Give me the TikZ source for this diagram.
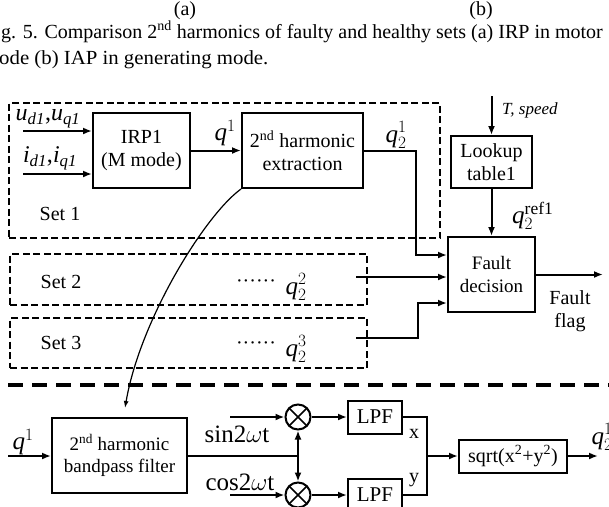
\documentclass[tikz,border=0pt]{standalone}
\usepackage{fontspec}
\setmainfont{Liberation Serif}
\usetikzlibrary{arrows.meta}
\begin{document}
\begin{tikzpicture}[x=1pt,y=-1pt,
  blk/.style={draw, line width=2pt, inner sep=0pt, align=center, font=\fontsize{20}{23}\selectfont},
  con/.style={line width=2pt, -{Latex[length=9pt,width=7pt]}},
  ln/.style={line width=2pt},
  setbox/.style={draw, line width=2pt, dash pattern=on 7pt off 3.5pt},
  sepline/.style={line width=3.2pt, dash pattern=on 15pt off 9pt, dash phase=16pt},
  lbl/.style={inner sep=0pt, font=\fontsize{20}{23}\selectfont},
  qlab/.style={inner sep=0pt, font=\fontsize{25}{28}\selectfont},
  captxt/.style={inner sep=0pt, font=\fontsize{20}{22}\selectfont},
  mult/.style={draw, circle, line width=2pt, minimum size=25pt, inner sep=0pt,
    path picture={\draw[line width=1.6pt] (path picture bounding box.north west) -- (path picture bounding box.south east)
      (path picture bounding box.north east) -- (path picture bounding box.south west);}},
]
\useasboundingbox (0,0) rectangle (609,506);
\clip (0,0) rectangle (609,506);

% caption remains
\node[captxt, anchor=base] (capa) at (185,16) {(a)};
\node[captxt, anchor=base] (capb) at (481,16) {(b)};
\node[captxt, anchor=base west] (cap1) at (1,38.5) {g. 5. Comparison 2\textsuperscript{nd} harmonics of faulty and healthy sets (a) IRP in motor};
\node[captxt, anchor=base west, xscale=1.04, transform shape] (cap2) at (-1,64) {ode (b) IAP in generating mode.};

% set boxes
\node[setbox, minimum width=431pt, minimum height=135pt] (set1) at (224.5,170.5) {};
\node[setbox, minimum width=357pt, minimum height=51pt] (set2) at (188.5,279.5) {};
\node[setbox, minimum width=357pt, minimum height=50pt] (set3) at (188.5,343) {};
\node[lbl] (s1) at (60,214) {Set 1};
\node[lbl] (s2) at (61,282) {Set 2};
\node[lbl] (s3) at (61,343) {Set 3};

% blocks
\node[blk, minimum width=97pt, minimum height=75pt] (irp) at (141.5,150.5) {IRP1\\(M mode)};
\node[blk, minimum width=121pt, minimum height=75pt] (ext) at (302.5,150.5) {2\textsuperscript{nd} harmonic\\extraction};
\node[blk, minimum width=81pt, minimum height=52pt] (lut) at (491.5,162) {Lookup\\table1};
\node[blk, minimum width=87pt, minimum height=75pt, font=\fontsize{19}{23}\selectfont] (fault) at (491.5,274.5) {Fault\\decision};

% inputs
\node[lbl, font=\fontsize{24}{26}\selectfont] (ulab) at (48,119) {$\mathit{u}_{\mathit{d1}}$,$\mathit{u}_{\mathit{q1}}$};
\node[lbl, font=\fontsize{24}{26}\selectfont] (ilab) at (50,158) {$\mathit{i}_{\mathit{d1}}$,$\mathit{i}_{\mathit{q1}}$};
\coordinate (uin) at (23,131);
\coordinate (iin) at (23,174);
\draw[con] (uin) -- (uin -| irp.west);
\draw[con] (iin) -- (iin -| irp.west);
\draw[con] (irp.east) -- (ext.west);
\node[qlab] (q1lab) at (225,133) {$\mathit{q}^{1}$};

% to fault decision
\coordinate (b1) at (416,255);
\draw[con] (ext.east) -| (b1) -- (b1 -| fault.west);
\node[qlab] (q21lab) at (396,135) {$\mathit{q}^{1}_{2}$};
\node[lbl] (d2) at (256,284) {\textperiodcentered\textperiodcentered\textperiodcentered\textperiodcentered\textperiodcentered\textperiodcentered};
\node[qlab] (q22lab) at (296,287) {$\mathit{q}^{2}_{2}$};
\node[lbl] (d3) at (256,346) {\textperiodcentered\textperiodcentered\textperiodcentered\textperiodcentered\textperiodcentered\textperiodcentered};
\node[qlab] (q23lab) at (296,349) {$\mathit{q}^{3}_{2}$};
\coordinate (s2o) at (356,277);
\draw[con] (s2o) -- (s2o -| fault.west);
\coordinate (s3o) at (356,338);
\coordinate (b3) at (418,303);
\draw[con] (s3o) -| (b3) -- (b3 -| fault.west);

\coordinate (tin) at (491.5,96);
\draw[con] (tin) -- (lut.north);
\node[inner sep=0pt, anchor=west, font=\fontsize{17}{20}\selectfont\itshape] (tlab) at (502,110) {T, speed};
\draw[con] (lut.south) -- (fault.north);
\node[qlab, anchor=west] (qref) at (512,216) {$\mathit{q}^{\mathrm{ref1}}_{2}$};
\coordinate (fout) at (603,274.5);
\draw[con] (fault.east) -- (fout);
\node[lbl, align=center, font=\fontsize{20}{23}\selectfont] (flag) at (570,311) {Fault\\flag};

% separator
\coordinate (sepL) at (0,385);
\coordinate (sepR) at (609,385);
\draw[sepline] (sepL) -- (sepR);

% bottom chain
\node[blk, minimum width=135pt, minimum height=75pt, font=\fontsize{19}{22}\selectfont] (bpf) at (119.5,455.5) {2\textsuperscript{nd} harmonic\\bandpass filter};
\node[qlab] (q1in) at (23,442) {$\mathit{q}^{1}$};
\coordinate (qin) at (8,456);
\draw[con] (qin) -- (qin -| bpf.west);
\node[mult] (m1) at (298,417) {};
\node[mult] (m2) at (298,495) {};
\coordinate (j) at (298,456);
\draw[ln] (bpf.east |- j) -- (j);
\draw[con] (j) -- (m1.south);
\draw[con] (j) -- (m2.north);
\node[lbl, font=\fontsize{25}{28}\selectfont] (sinlab) at (237,434) {sin2$\omega$t};
\node[lbl, font=\fontsize{25}{28}\selectfont] (coslab) at (240,482) {cos2$\omega$t};
\coordinate (a1) at (230,417);
\coordinate (a2) at (230,495);
\draw[con] (a1) -- (m1.west);
\draw[con] (a2) -- (m2.west);
\node[blk, minimum width=54pt, minimum height=33pt, font=\fontsize{21}{23}\selectfont] (lpf1) at (375,417) {LPF};
\node[blk, minimum width=54pt, minimum height=33pt, font=\fontsize{21}{23}\selectfont] (lpf2) at (375,495) {LPF};
\draw[con] (m1.east) -- (lpf1.west);
\draw[con] (m2.east) -- (lpf2.west);
\coordinate (c) at (427,456);
\draw[ln] (lpf1.east) -| (c) |- (lpf2.east);
\node[lbl] (xlab) at (414,434) {x};
\node[lbl] (ylab) at (414,480) {y};
\node[blk, minimum width=108pt, minimum height=33pt, font=\fontsize{20}{23}\selectfont] (sq) at (513,456) {sqrt(x\textsuperscript{2}+y\textsuperscript{2})};
\draw[con] (c) -- (c -| sq.west);
\coordinate (qout) at (598,456);
\draw[con] (sq.east) -- (qout);
\node[qlab] (q21out) at (602,437) {$\mathit{q}^{1}_{2}$};

% curved link
\coordinate (ce) at (125,408);
\draw[line width=1.2pt, -{Latex[length=7pt,width=5pt]}] (ext.south west) .. controls (205,215) and (140,320) .. (ce);
\end{tikzpicture}
\end{document}
